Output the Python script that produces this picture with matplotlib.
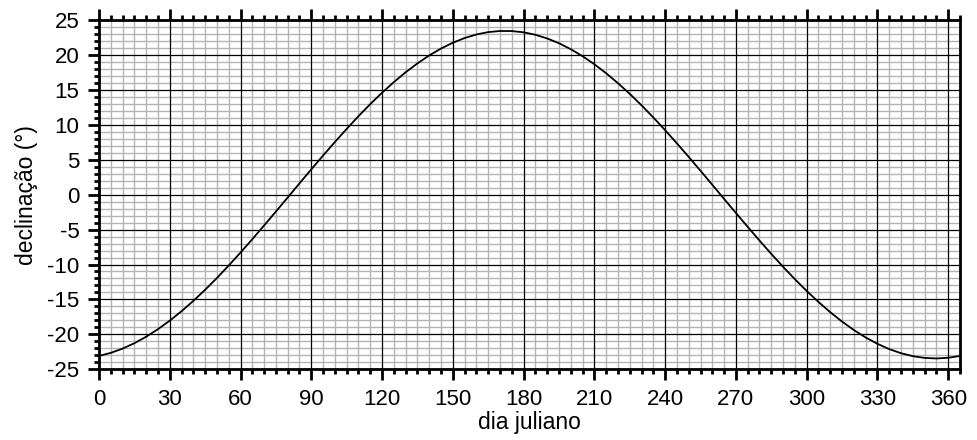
import matplotlib
matplotlib.use('Agg')
import matplotlib.pyplot as plt
from matplotlib.ticker import MultipleLocator

plt.rcParams['font.family'] = ['Liberation Sans', 'DejaVu Sans']
plt.rcParams['axes.unicode_minus'] = False

# dia juliano / declinação
dias = list(range(0, 366, 5))
declinacao = [
    -23.09, -22.65, -22.04, -21.27, -20.34, -19.26, -18.04, -16.69, -15.21, -13.62,
    -11.93, -10.15, -8.29, -6.38, -4.41, -2.42, -0.41, 1.62, 3.62, 5.60,
    7.53, 9.41, 11.23, 12.96, 14.59, 16.11, 17.52, 18.79, 19.93, 20.92,
    21.75, 22.42, 22.93, 23.27, 23.43, 23.42, 23.24, 22.89, 22.36, 21.68,
    20.82, 19.82, 18.67, 17.38, 15.96, 14.43, 12.79, 11.05, 9.23, 7.34,
    5.40, 3.42, 1.41, -0.61, -2.62, -4.61, -6.57, -8.48, -10.33, -12.10,
    -13.78, -15.36, -16.83, -18.17, -19.38, -20.44, -21.35, -22.11, -22.70, -23.12,
    -23.37, -23.45, -23.35, -23.09,
]
xticks = list(range(0, 361, 30))
yticks = list(range(-25, 26, 5))

fig = plt.figure(figsize=(9.77, 4.40), dpi=100, facecolor='white')
ax = fig.add_axes([0.1013, 0.1607, 0.8813, 0.7938])

ax.set_xlim(0, 365)
ax.set_ylim(-25, 25)
ax.set_xticks(xticks)
ax.set_yticks(yticks)
ax.xaxis.set_minor_locator(MultipleLocator(5))
ax.yaxis.set_minor_locator(MultipleLocator(1))

# grade fina cinza, grade principal preta por cima
ax.grid(which='minor', color='#b4b4b4', lw=1.0)
ax.set_axisbelow(True)
for x in xticks:
    ax.axvline(x, color='black', lw=0.9, zorder=1.5)
for y in yticks:
    ax.axhline(y, color='black', lw=0.9, zorder=1.5)

ax.plot(dias, declinacao, color='black', lw=1.3, zorder=3)

for s in ax.spines.values():
    s.set_linewidth(2.0)
    s.set_zorder(4)

ax.tick_params(which='major', direction='out', length=8, width=2, labelsize=16,
               top=True, right=False, labeltop=False, pad=6)
ax.tick_params(which='minor', direction='out', length=3.8, width=2,
               top=True, right=False)

ax.set_xlabel('dia juliano', fontsize=16.5, labelpad=1)
ax.set_ylabel('declinação (°)', fontsize=16.5, labelpad=7)

fig.savefig('out.png', dpi=100, facecolor='white')
